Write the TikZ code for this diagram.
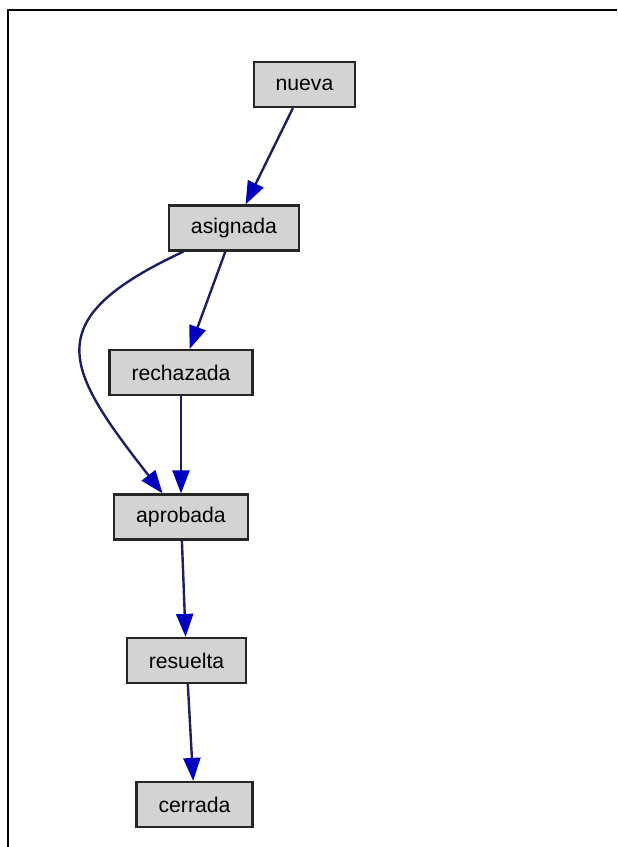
\documentclass[tikz,border=0pt]{standalone}
\usepackage{fontspec}
\setmainfont{Liberation Sans}
\usetikzlibrary{arrows.meta}
\definecolor{boxgray}{RGB}{211,211,211}
\definecolor{edgeblue}{RGB}{30,30,100}
\definecolor{tipblue}{RGB}{0,0,190}
\begin{document}
\begin{tikzpicture}[x=0.5pt,y=-0.5pt,
  state/.style={draw=black!85, line width=1.1pt, fill=boxgray, inner xsep=11pt,
    minimum height=22.5pt, font=\fontsize{10.6}{12}\selectfont},
  edge/.style={draw=edgeblue, line width=1.2pt,
    -{Triangle[length=11.5pt,width=8.5pt,color=tipblue]}}]
\useasboundingbox (0,0) rectangle (617,847);
\draw[line width=1pt] (617,10) -- (7.5,10) -- (7.5,847);
\node[state] (nueva) at (304.5,84.5) {nueva};
\node[state] (asignada) at (234,228) {asignada};
\node[state] (rechazada) at (181,372.5) {rechazada};
\node[state] (aprobada) at (181,517) {aprobada};
\node[state] (resuelta) at (186.5,660.5) {resuelta};
\node[state] (cerrada) at (194.5,804.5) {cerrada};
\draw[edge] (nueva) -- (asignada);
\draw[edge] (asignada) -- (rechazada);
\draw[edge] (asignada) to[out=205, in=128, looseness=1.7] (aprobada);
\draw[edge] (rechazada) -- (aprobada);
\draw[edge] (aprobada) -- (resuelta);
\draw[edge] (resuelta) -- (cerrada);
\end{tikzpicture}
\end{document}
